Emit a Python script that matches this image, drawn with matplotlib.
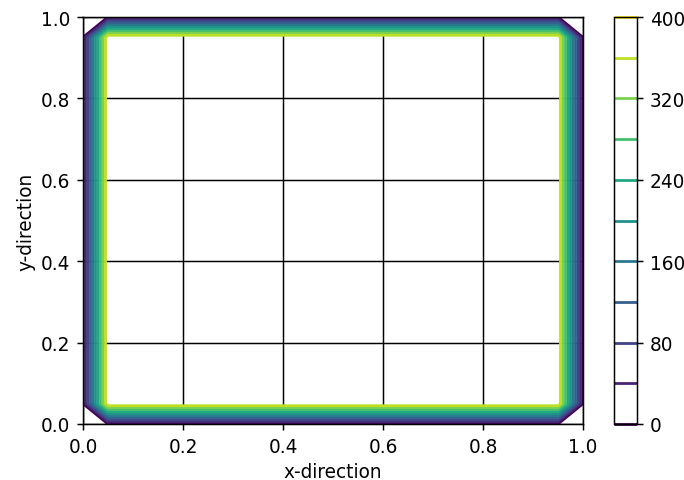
import numpy as np
import matplotlib
matplotlib.use("Agg")
import matplotlib.pyplot as plt

# Plate temperature field on a uniform grid: cold edges, hot interior
n_points = 21
edge_temp = 0.0
interior_temp = 400.0
contour_levels = [0, 40, 80, 120, 160, 200, 240, 280, 320, 360, 400]

scale = 4.0 / 3.0
plt.rcParams.update({
    "font.size": 10 * scale,
    "axes.linewidth": 0.8 * scale,
    "xtick.major.width": 0.8 * scale,
    "ytick.major.width": 0.8 * scale,
    "xtick.major.size": 3.5 * scale,
    "ytick.major.size": 3.5 * scale,
    "xtick.major.pad": 3.5 * scale,
    "ytick.major.pad": 3.5 * scale,
    "lines.linewidth": 1.5 * scale,
})

x = np.linspace(0.0, 1.0, n_points)
y = np.linspace(0.0, 1.0, n_points)
X, Y = np.meshgrid(x, y)
T = np.full((n_points, n_points), interior_temp)
T[0, :] = edge_temp
T[-1, :] = edge_temp
T[:, 0] = edge_temp
T[:, -1] = edge_temp

fig = plt.figure(figsize=(6.84, 4.81), dpi=100)
ax = fig.add_axes([83 / 684, 1 - 425 / 481, 500 / 684, 407 / 481])
cax = fig.add_axes([614 / 684, 1 - 425 / 481, 23 / 684, 407 / 481])

cs = ax.contour(X, Y, T, levels=contour_levels, cmap="viridis",
                linewidths=1.5 * scale)
ax.grid(True, color="black", linewidth=0.8 * scale)
ax.set_xlim(0, 1)
ax.set_ylim(0, 1)
ax.set_xlabel("x-direction")
ax.set_ylabel("y-direction")

fig.colorbar(cs, cax=cax)

fig.savefig("out.png", dpi=100)
